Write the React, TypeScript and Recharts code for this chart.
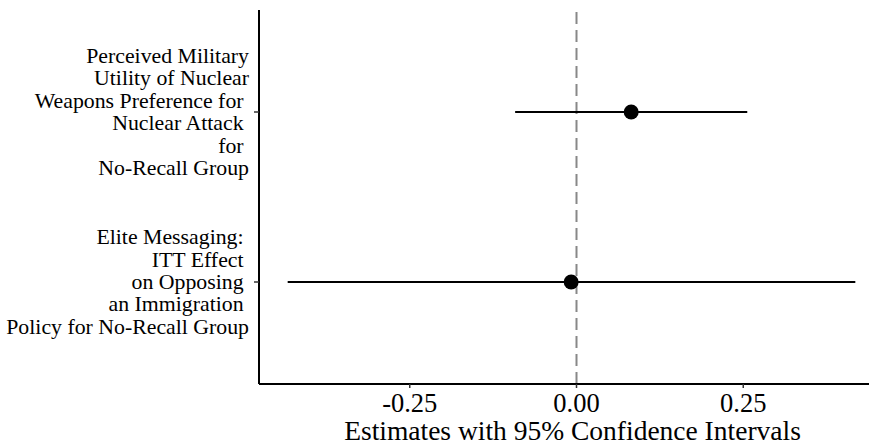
import { ComposedChart, ErrorBar, ReferenceLine, Scatter, XAxis, YAxis } from 'recharts'

const rowLabels = [
  ['Perceived Military', 'Utility of Nuclear', 'Weapons Preference for ', 'Nuclear Attack ', 'for ', 'No-Recall Group'],
  ['Elite Messaging: ', 'ITT Effect ', 'on Opposing ', 'an Immigration ', 'Policy for No-Recall Group'],
]
const rowPositions = [2, 1]
const estimates = [0.082, -0.008]
const lowerBounds = [-0.092, -0.433]
const upperBounds = [0.256, 0.418]
const xTicks = [-0.25, 0, 0.25]

const font = '"Liberation Serif", "Times New Roman", serif'

const data = estimates.map((est, i) => ({
  est,
  pos: rowPositions[i],
  err: [est - lowerBounds[i], upperBounds[i] - est],
}))

function RowTick(props: any) {
  const { x, y, payload } = props
  const idx = rowPositions.indexOf(payload.value)
  const lines = idx >= 0 ? rowLabels[idx] : []
  const lh = 22.4
  return (
    <text x={x} y={y} textAnchor="end" fontFamily={font} fontSize={21.8} fill="#000" xmlSpace="preserve" style={{ whiteSpace: 'pre' }}>
      {lines.map((line, i) => (
        <tspan key={i} x={x} y={y + (i - (lines.length - 1) / 2) * lh + 7}>
          {line}
        </tspan>
      ))}
    </text>
  )
}

export default function App() {
  return (
    <div style={{ position: 'absolute', left: 0, top: 0, width: 869, height: 448, overflow: 'hidden', background: '#fff' }}>
      <ComposedChart width={886} height={448} data={data} margin={{ top: 10, right: 0, bottom: 0, left: 0 }}>
        <XAxis
          type="number"
          dataKey="est"
          domain={[-0.476, 0.464]}
          ticks={xTicks}
          tickFormatter={(v) => Number(v).toFixed(2)}
          height={64}
          tickSize={4}
          tickMargin={5}
          axisLine={{ stroke: '#000', strokeWidth: 2 }}
          tickLine={{ stroke: '#333', strokeWidth: 1.5 }}
          tick={{ fontSize: 26.5, fill: '#000', fontFamily: font }}
          allowDataOverflow
          label={{ value: 'Estimates with 95% Confidence Intervals', position: 'insideBottom', offset: 8, fontSize: 27.5, fill: '#000', fontFamily: font }}
        />
        <YAxis
          type="number"
          dataKey="pos"
          domain={[0.4, 2.6]}
          ticks={rowPositions}
          width={259}
          tickSize={5}
          tickMargin={5}
          axisLine={{ stroke: '#000', strokeWidth: 2 }}
          tickLine={{ stroke: '#333', strokeWidth: 1.5 }}
          tick={<RowTick />}
          interval={0}
        />
        <ReferenceLine x={0} stroke="#888" strokeWidth={2} strokeDasharray="12 6" />
        <Scatter
          dataKey="pos"
          isAnimationActive={false}
          shape={(p: any) => <circle cx={p.cx} cy={p.cy} r={7.5} fill="#000" />}
        >
          <ErrorBar dataKey="err" direction="x" width={0} stroke="#000" strokeWidth={2} isAnimationActive={false} />
        </Scatter>
      </ComposedChart>
    </div>
  )
}
